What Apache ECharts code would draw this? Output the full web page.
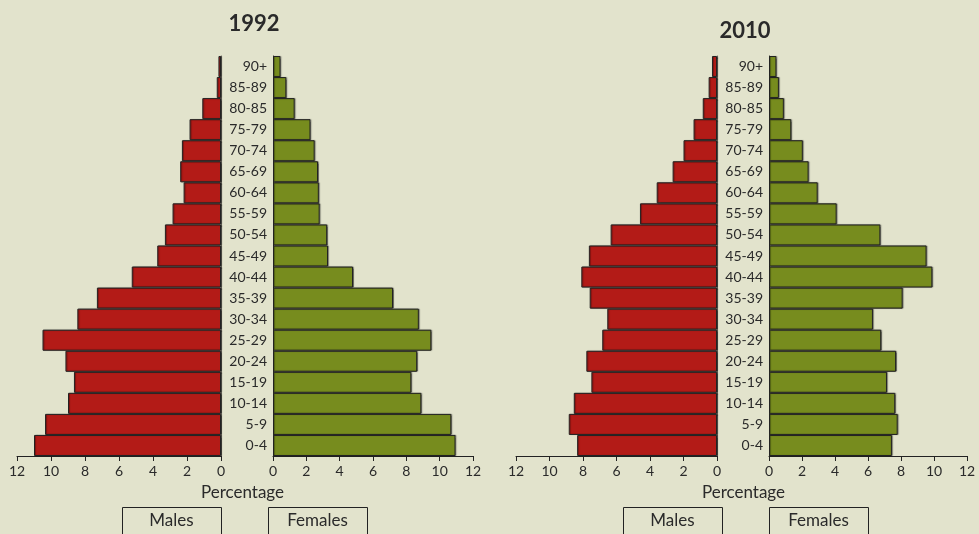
<!DOCTYPE html>
<html>
<head>
<meta charset="utf-8">
<script src="https://cdn.jsdelivr.net/npm/echarts@6/dist/echarts.min.js"></script>
<style>
html,body{margin:0;padding:0;background:#e2e3cc;}
#chart{width:979px;height:534px;}
</style>
</head>
<body>
<div id="chart"></div>
<script>
// Age groups (bottom to top)
var ageGroups = ['0-4','5-9','10-14','15-19','20-24','25-29','30-34','35-39','40-44','45-49','50-54','55-59','60-64','65-69','70-74','75-79','80-85','85-89','90+'];
var xTicks = [0, 2, 4, 6, 8, 10, 12];
var titles = ['1992', '2010'];

var males1992   = [11.0, 10.35, 9.0, 8.65, 9.15, 10.5, 8.45, 7.3, 5.25, 3.75, 3.3, 2.85, 2.2, 2.4, 2.3, 1.85, 1.1, 0.25, 0.15];
var females1992 = [10.95, 10.7, 8.9, 8.3, 8.65, 9.5, 8.75, 7.2, 4.8, 3.3, 3.25, 2.8, 2.75, 2.7, 2.5, 2.25, 1.3, 0.8, 0.45];
var males2010   = [8.35, 8.85, 8.55, 7.5, 7.8, 6.85, 6.55, 7.6, 8.1, 7.65, 6.35, 4.6, 3.6, 2.65, 2.0, 1.4, 0.85, 0.5, 0.3];
var females2010 = [7.45, 7.8, 7.65, 7.15, 7.7, 6.8, 6.3, 8.1, 9.9, 9.55, 6.75, 4.1, 2.95, 2.4, 2.05, 1.35, 0.9, 0.6, 0.45];

var FONT = 'Lato, "Open Sans", sans-serif';
var TXT = '#2a2a2a';
var RED = '#b31b17';
var GREEN = '#778c1e';

var grids = [
  {left: 17,  top: 56, width: 204, height: 400},
  {left: 273, top: 56, width: 200, height: 400},
  {left: 516, top: 56, width: 201, height: 400},
  {left: 769, top: 56, width: 198, height: 400}
];

function xAxis(idx, inverse) {
  return {
    type: 'value', gridIndex: idx, min: xTicks[0], max: xTicks[xTicks.length-1], interval: 2,
    inverse: inverse,
    axisLine: {show: true, lineStyle: {color: '#222', width: 1}},
    axisTick: {show: true, length: 5, lineStyle: {color: '#222'}},
    axisLabel: {color: TXT, fontSize: 14, fontFamily: FONT, margin: 8},
    splitLine: {show: false}
  };
}
function yAxis(idx, isMale) {
  return {
    type: 'category', gridIndex: idx, data: ageGroups,
    position: isMale ? 'right' : 'left',
    axisLine: {show: true, lineStyle: {color: isMale ? '#7a7a70' : '#222', width: 1}},
    axisTick: {show: false},
    axisLabel: {show: !isMale, color: TXT, fontSize: 14, fontFamily: FONT, margin: 6, align: 'right'},
    splitLine: {show: false}
  };
}
function barSeries(idx, data, color) {
  return {
    type: 'bar', xAxisIndex: idx, yAxisIndex: idx, data: data,
    barCategoryGap: 0, barWidth: '100%',
    itemStyle: {color: color, borderColor: '#222', borderWidth: 1,
      shadowColor: 'rgba(0,0,0,0.35)', shadowOffsetX: 1, shadowOffsetY: 0, shadowBlur: 1},
    silent: true
  };
}

function textEl(x, y, text, size, weight) {
  return {type: 'text', left: x, top: y, style: {text: text, x: 0, y: 0, fill: TXT, font: (weight||'normal') + ' ' + size + 'px ' + FONT, textAlign: 'center', textVerticalAlign: 'middle'}};
}
function graphicsFor(cx, titleY, title, maleBox, femaleBox) {
  var els = [];
  els.push({type: 'text', x: cx, y: titleY, style: {text: title, fill: TXT, font: 'bold 22px ' + FONT, align: 'center', verticalAlign: 'middle'}});
  els.push({type: 'text', x: (maleBox[1] + femaleBox[0]) / 2 - 2, y: 493, style: {text: 'Percentage', fill: TXT, font: 'normal 17px ' + FONT, align: 'center', verticalAlign: 'middle'}});
  els.push({type: 'rect', shape: {x: maleBox[0] + 0.5, y: 507.5, width: maleBox[1] - maleBox[0], height: 40}, style: {fill: 'none', stroke: '#222', lineWidth: 1}});
  els.push({type: 'rect', shape: {x: femaleBox[0] + 0.5, y: 507.5, width: femaleBox[1] - femaleBox[0], height: 40}, style: {fill: 'none', stroke: '#222', lineWidth: 1}});
  els.push({type: 'text', x: (maleBox[0] + maleBox[1]) / 2, y: 521, style: {text: 'Males', fill: TXT, font: 'normal 17px ' + FONT, align: 'center', verticalAlign: 'middle'}});
  els.push({type: 'text', x: (femaleBox[0] + femaleBox[1]) / 2, y: 521, style: {text: 'Females', fill: TXT, font: 'normal 17px ' + FONT, align: 'center', verticalAlign: 'middle'}});
  return els;
}

var chart = echarts.init(document.getElementById('chart'), null, {renderer: 'canvas'});
chart.setOption({
  backgroundColor: '#e2e3cc',
  animation: false,
  grid: grids,
  xAxis: [xAxis(0, true), xAxis(1, false), xAxis(2, true), xAxis(3, false)],
  yAxis: [yAxis(0, true), yAxis(1, false), yAxis(2, true), yAxis(3, false)],
  series: [
    barSeries(0, males1992, RED),
    barSeries(1, females1992, GREEN),
    barSeries(2, males2010, RED),
    barSeries(3, females2010, GREEN)
  ],
  graphic: [].concat(
    graphicsFor(254, 24, titles[0], [122, 221], [268, 367]),
    graphicsFor(745, 31, titles[1], [623, 722], [769, 868])
  )
});
</script>
</body>
</html>
